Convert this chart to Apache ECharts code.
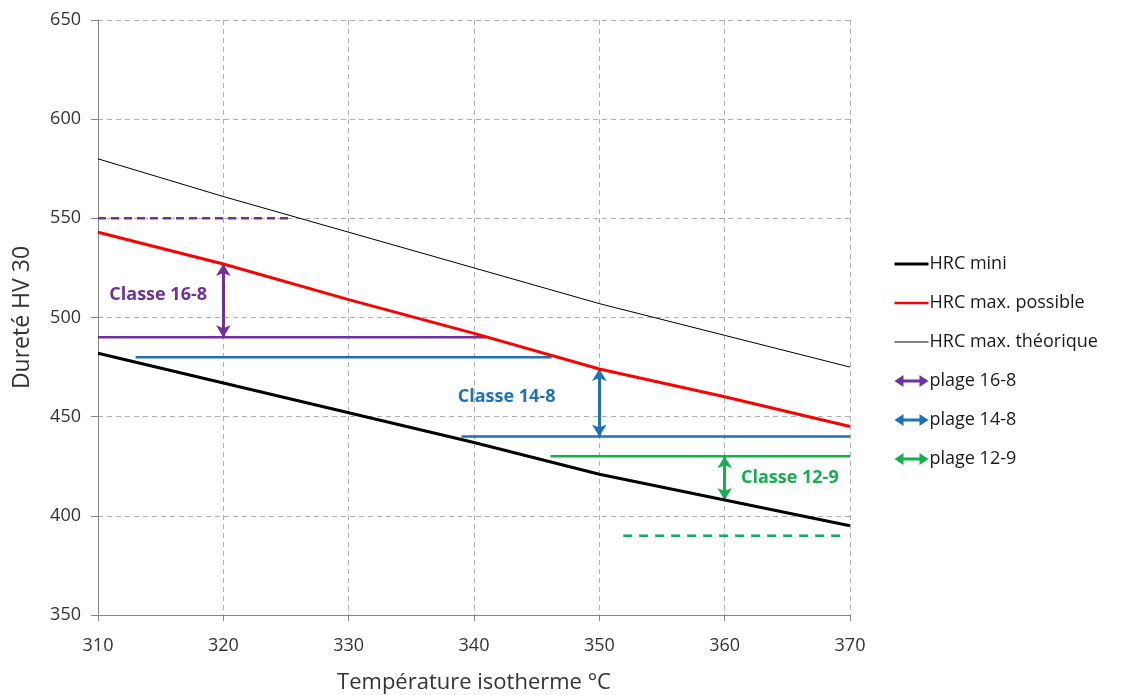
<!DOCTYPE html>
<html><head><meta charset="utf-8">
<script src="https://cdn.jsdelivr.net/npm/echarts@6/dist/echarts.min.js"></script>
<style>html,body{margin:0;padding:0;background:#fff}#c{width:1132px;height:695px}</style>
</head><body><div id="c"></div>
<script>
const temps = [310, 320, 330, 340, 350, 360, 370];
const hrcMini = [482, 467, 452, 437, 421, 408, 395];
const hrcMaxPossible = [543, 527, 509, 492, 474, 460, 445];
const hrcMaxTheorique = [580, 561, 543, 525, 507, 491, 475];
// horizontal class limits: [xStart, xEnd, value]
const purpleSolid = [[310, 341, 490]];
const purpleDashed = [[310, 325.3, 550]];
const blueSolid = [[313, 346.2, 480], [339, 370, 440]];
const greenSolid = [[346.1, 370, 430]];
const greenDashed = [[351.9, 369.5, 390]];
// arrows: [x, from, to]
const arrow168 = [320, 490, 527];
const arrow148 = [350, 440, 474];
const arrow129 = [360, 430, 408];
// labels: [x, y, text]
const label168 = [314.8, 511.4, 'Classe 16-8'];
const label148 = [342.6, 460, 'Classe 14-8'];
const label129 = [365.2, 419.2, 'Classe 12-9'];

const PURPLE = '#7030A0', BLUE = '#1F72B8', GREEN = '#13B050';
const FONT = 'Open Sans';

function seg(list) {
  const out = [];
  list.forEach((s, i) => {
    if (i > 0) out.push(['-', '-']);
    out.push([s[0], s[2]]); out.push([s[1], s[2]]);
  });
  return out;
}
function arrowMark(a, color) {
  return {
    silent: true, animation: false,
    symbol: ['arrow', 'arrow'], symbolSize: [11, 12],
    label: { show: false },
    lineStyle: { color: color, width: 3, type: 'solid' },
    emphasis: { disabled: true },
    data: [[{ coord: [a[0], a[1]] }, { coord: [a[0], a[2]] }]]
  };
}
function labelMark(l, color) {
  return {
    silent: true, animation: false, symbolSize: 0,
    label: { show: true, position: 'inside', formatter: l[2], color: color,
      fontFamily: FONT, fontWeight: 'bold', fontSize: 18 },
    data: [{ coord: [l[0], l[1]] }]
  };
}
const arrowIcon = 'path://M0,6 L9,0 L9,4.5 L25,4.5 L25,0 L34,6 L25,12 L25,7.5 L9,7.5 L9,12 Z';
const hideSym = { opacity: 0 };

const chart = echarts.init(document.getElementById('c'), null, { renderer: 'canvas' });
chart.setOption({
  animation: false,
  backgroundColor: '#fff',
  textStyle: { fontFamily: FONT },
  grid: { left: 98, right: 282, top: 20, bottom: 80, outerBoundsMode: 'none', containLabel: false },
  xAxis: {
    type: 'value', min: 310, max: 370, interval: 10,
    name: 'Température isotherme °C', nameLocation: 'middle', nameGap: 57,
    nameTextStyle: { fontFamily: FONT, fontSize: 22, color: '#333' },
    axisLine: { onZero: false, lineStyle: { color: '#868686', width: 1 } },
    axisTick: { show: true, inside: false, length: 6, lineStyle: { color: '#868686' } },
    axisLabel: { fontFamily: FONT, fontSize: 18, color: '#333', margin: 22 },
    splitLine: { show: true, lineStyle: { color: '#B0B0B0', type: [5, 4], width: 1 } }
  },
  yAxis: {
    type: 'value', min: 350, max: 650, interval: 50,
    name: 'Dureté HV 30', nameLocation: 'middle', nameGap: 64,
    nameTextStyle: { fontFamily: FONT, fontSize: 23, color: '#333' },
    axisLine: { show: true, lineStyle: { color: '#868686', width: 1 } },
    axisTick: { show: true, inside: false, length: 7, lineStyle: { color: '#868686' } },
    axisLabel: { fontFamily: FONT, fontSize: 18, color: '#333', margin: 17 },
    splitLine: { show: true, lineStyle: { color: '#B0B0B0', type: [5, 4], width: 1 } }
  },
  legend: {
    orient: 'vertical', left: 888, top: 250, itemGap: 21,
    itemWidth: 34, itemHeight: 12,
    textStyle: { fontFamily: FONT, fontSize: 18, color: '#1a1a1a', padding: [0, 0, 0, -4] },
    data: [
      { name: 'HRC mini', itemStyle: hideSym, lineStyle: { width: 3 } },
      { name: 'HRC max. possible', itemStyle: hideSym, lineStyle: { width: 2.5 } },
      { name: 'HRC max. théorique', itemStyle: hideSym, lineStyle: { width: 1 } },
      { name: 'plage 16-8', icon: arrowIcon },
      { name: 'plage 14-8', icon: arrowIcon },
      { name: 'plage 12-9', icon: arrowIcon }
    ]
  },
  series: [
    { name: 'HRC mini', type: 'line', symbol: 'none',
      data: temps.map((t, i) => [t, hrcMini[i]]),
      lineStyle: { color: '#000', width: 3 }, itemStyle: { color: '#000' }, z: 5 },
    { name: 'HRC max. possible', type: 'line', symbol: 'none',
      data: temps.map((t, i) => [t, hrcMaxPossible[i]]),
      lineStyle: { color: '#FF0000', width: 3 }, itemStyle: { color: '#FF0000' }, z: 5 },
    { name: 'HRC max. théorique', type: 'line', symbol: 'none',
      data: temps.map((t, i) => [t, hrcMaxTheorique[i]]),
      lineStyle: { color: '#000', width: 1 }, itemStyle: { color: '#000' }, z: 5 },
    { name: 'plage 16-8', type: 'line', symbol: 'none', connectNulls: false,
      data: seg(purpleSolid),
      lineStyle: { color: PURPLE, width: 2.5 }, itemStyle: { color: PURPLE },
      markLine: arrowMark(arrow168, PURPLE), markPoint: labelMark(label168, PURPLE), z: 4 },
    { name: 'plage 14-8', type: 'line', symbol: 'none', connectNulls: false,
      data: seg(blueSolid),
      lineStyle: { color: BLUE, width: 2.5 }, itemStyle: { color: BLUE },
      markLine: arrowMark(arrow148, BLUE), markPoint: labelMark(label148, BLUE), z: 4 },
    { name: 'plage 12-9', type: 'line', symbol: 'none', connectNulls: false,
      data: seg(greenSolid),
      lineStyle: { color: GREEN, width: 2.5 }, itemStyle: { color: GREEN },
      markLine: arrowMark(arrow129, GREEN), markPoint: labelMark(label129, GREEN), z: 4 },
    { name: 'limite 16-8', type: 'line', symbol: 'none',
      data: seg(purpleDashed),
      lineStyle: { color: PURPLE, width: 2.5, type: [8, 5] }, z: 4 },
    { name: 'limite 12-9', type: 'line', symbol: 'none',
      data: seg(greenDashed),
      lineStyle: { color: GREEN, width: 2.5, type: [9, 7] }, z: 4 }
  ]
});
</script>
</body></html>
